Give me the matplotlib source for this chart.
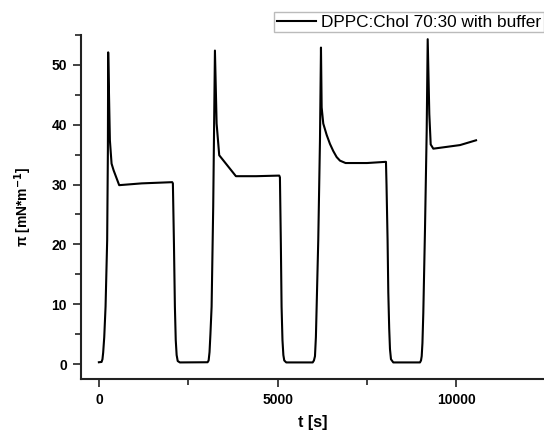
import matplotlib
matplotlib.use("Agg")
import matplotlib.pyplot as plt
from matplotlib.ticker import MultipleLocator

plt.rcParams['font.family'] = ['Liberation Sans', 'DejaVu Sans']

# Time [s]
t = [0, 75, 100, 120, 150, 187, 232, 252, 260, 308, 355, 411, 568, 1200, 2051, 2070, 2100, 2126, 2150, 2175, 2205, 2266,
     3040, 3070, 3095, 3120, 3153, 3198, 3246, 3293, 3366, 3833, 4400, 5045, 5064, 5090, 5110, 5135, 5160, 5185, 5240,
     5980, 6015, 6044, 6070, 6091, 6136, 6184, 6212, 6231, 6276, 6371, 6463, 6556, 6650, 6743, 6900, 7500, 8030, 8045,
     8075, 8095, 8120, 8142, 8170, 8235,
     8981, 9010, 9029, 9050, 9074, 9121, 9169, 9197, 9242, 9281, 9354, 9729, 10101, 10549]
# Surface pressure [mN/m]
pi = [0.3, 0.35, 0.8, 1.9, 4.5, 9.6, 20.7, 35.7, 52.1, 37.4, 33.5, 32.4, 29.9, 30.2, 30.4, 30.2, 20.0, 9.6, 4.0, 1.5, 0.5, 0.27,
      0.3, 0.6, 2.0, 5.0, 9.6, 26.3, 52.4, 40.2, 34.9, 31.4, 31.4, 31.5, 31.2, 20.0, 9.6, 4.0, 1.5, 0.6, 0.27,
      0.27, 0.6, 1.3, 4.5, 9.6, 20.7, 37.4, 52.9, 42.9, 40.2, 38.3, 36.8, 35.6, 34.6, 34.0, 33.6, 33.6, 33.8, 30.0,
      20.7, 12.0, 6.0, 2.5, 0.8, 0.27,
      0.27, 0.6, 1.3, 3.5, 8.5, 22.4, 39.0, 54.3, 41.8, 36.7, 36.0, 36.3, 36.6, 37.4]

series_label = "DPPC:Chol 70:30 with buffer"

fig = plt.figure(figsize=(5.44, 4.34), dpi=100)
ax = fig.add_axes([81/544, (434-379)/434, 1 - 81/544, (379-35)/434])

line, = ax.plot(t, pi, color='black', lw=1.5, label=series_label)

ax.set_xlim(-500, 12450)
ax.set_ylim(-2.5, 55)

for s in ['top', 'right']:
    ax.spines[s].set_visible(False)
for s in ['left', 'bottom']:
    ax.spines[s].set_linewidth(1.5)
    ax.spines[s].set_color('#222222')

ax.xaxis.set_major_locator(MultipleLocator(5000))
ax.xaxis.set_minor_locator(MultipleLocator(2500))
ax.yaxis.set_major_locator(MultipleLocator(10))
ax.yaxis.set_minor_locator(MultipleLocator(5))
ax.tick_params(which='major', direction='out', length=6, width=1.2, color='#222222', labelsize=10, pad=4)
ax.tick_params(which='minor', direction='out', length=4, width=1.2, color='#222222')
for lab in ax.get_xticklabels() + ax.get_yticklabels():
    lab.set_fontweight('bold')

ax.set_xlabel("t [s]", fontsize=11.5, fontweight='bold', labelpad=6)
ax.set_ylabel(r"π [mN*m$^{\mathbf{-1}}$]", fontsize=10, fontweight='bold', labelpad=13)

leg = fig.legend(handles=[line], loc='upper right', bbox_to_anchor=(1.0, 1 - 12/434),
                 fontsize=12.4, frameon=True, fancybox=False, edgecolor='#aaaaaa',
                 borderpad=0.15, handlelength=2.3, handletextpad=0.3, borderaxespad=0.0)
leg.get_frame().set_linewidth(1.0)

fig.savefig("out.png", dpi=100)
